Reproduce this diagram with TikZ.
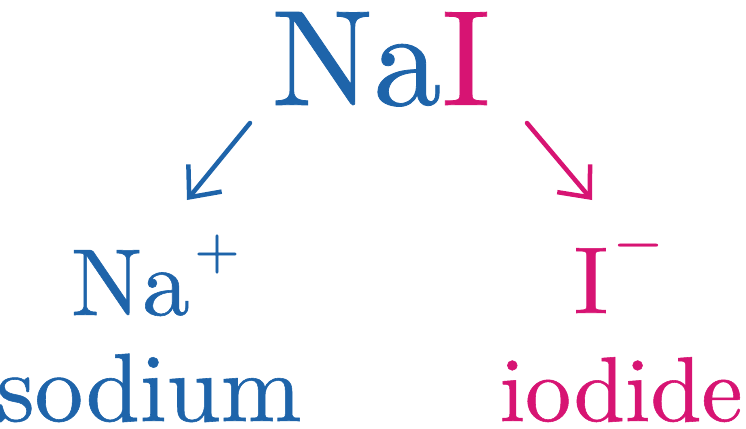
\documentclass[tikz,border=0pt]{standalone}
\usepackage{fontspec}
\newfontfamily\heavy{lmroman10-regular.otf}[FakeBold=0.6]
\usetikzlibrary{arrows.meta}
\definecolor{nablue}{RGB}{30,100,170}
\definecolor{ipink}{RGB}{215,20,115}
\begin{document}
\begin{tikzpicture}[x=1bp,y=-1bp,
  lbl/.style={inner sep=0pt,outer sep=0pt,font=\heavy},
  split/.style={line width=4.5bp,line cap=round,-{Straight Barb[length=25bp,width=43bp,line width=4.5bp]}}]
\useasboundingbox (0,0) rectangle (746,428);
\node[lbl,anchor=base] (salt) at (381,105) {\fontsize{136bp}{136bp}\selectfont\textcolor{nablue}{Na}\textcolor{ipink}{I}};
\node[lbl,anchor=base west,text=nablue] (na) at (71,315) {\fontsize{95bp}{95bp}\selectfont Na};
\node[lbl,text=nablue] (plus) at (217,254) {\fontsize{58bp}{58bp}\selectfont +};
\node[lbl,anchor=base,text=nablue] (sodium) at (149,421) {\fontsize{97bp}{97bp}\selectfont sodium};
\node[lbl,anchor=base,text=ipink] (iod) at (591,313) {\fontsize{95bp}{95bp}\selectfont I};
\node[lbl,text=ipink] (minus) at (638,252) {\fontsize{60bp}{60bp}\selectfont \char"2212};
\node[lbl,anchor=base,text=ipink] (iodide) at (621,421) {\fontsize{92bp}{92bp}\selectfont iodide};
\coordinate (ltail) at (250,123);
\coordinate (lhead) at (187,200);
\coordinate (rtail) at (527,123);
\coordinate (rhead) at (592,200);
\draw[split,nablue] (ltail) -- (lhead);
\draw[split,ipink] (rtail) -- (rhead);
\end{tikzpicture}
\end{document}
